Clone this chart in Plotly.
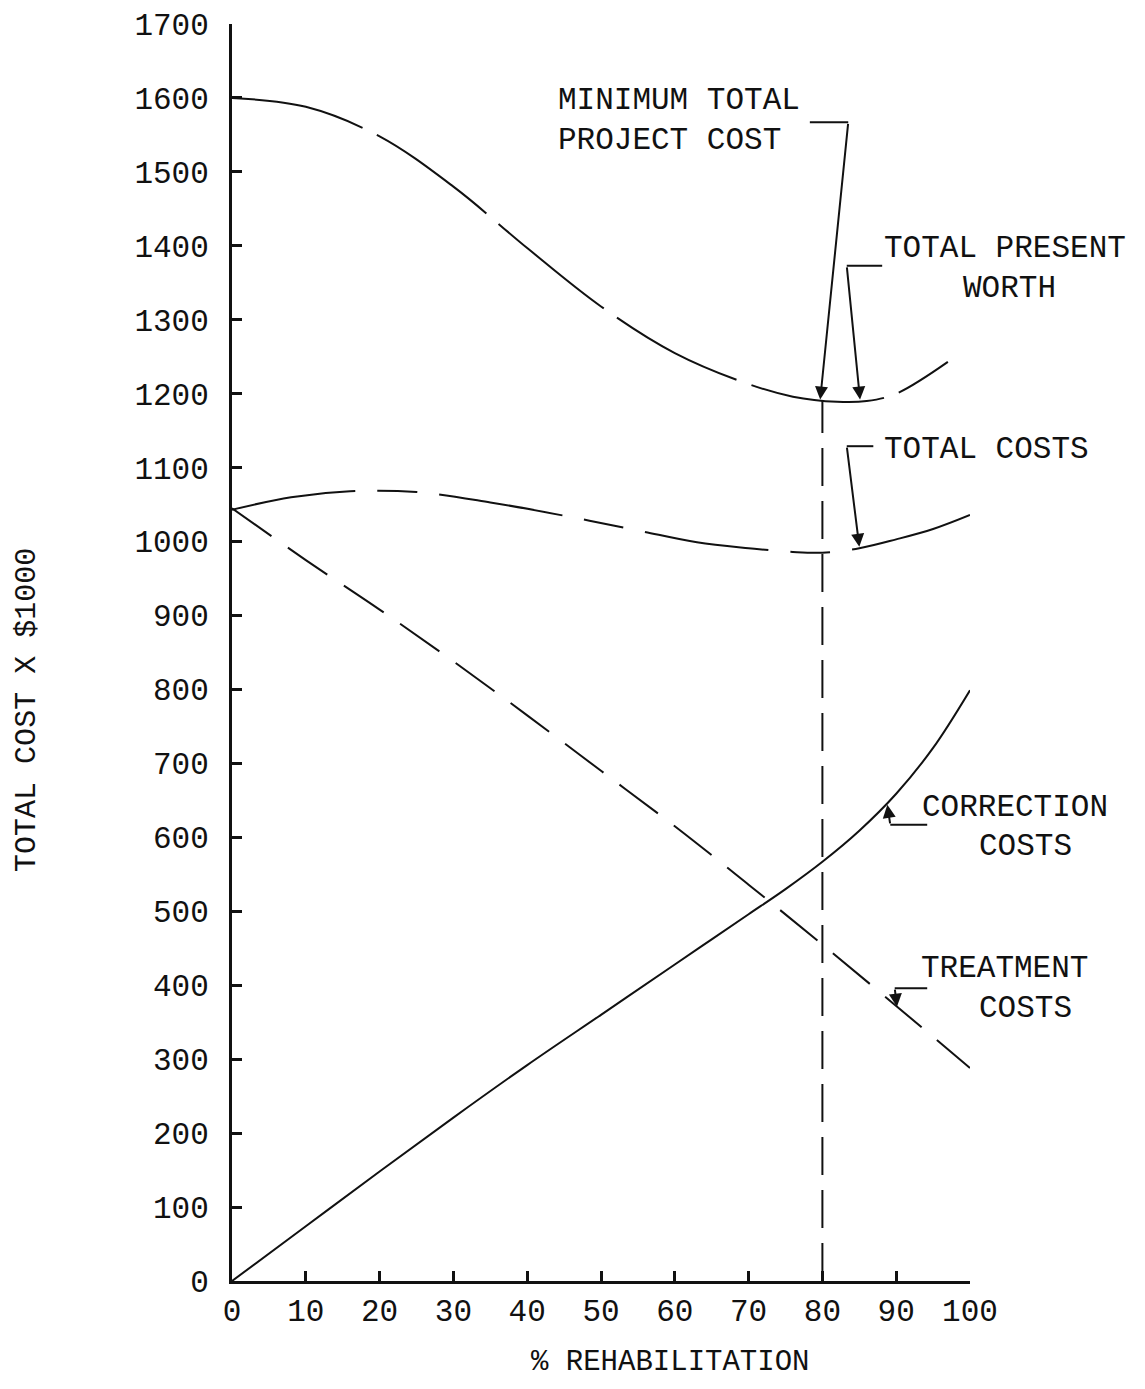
import plotly.graph_objects as go

# ---- data ----
pct = [0, 10, 20, 30, 40, 50, 60, 70, 80, 90, 100]

pw_x = [0, 10, 20, 30, 40, 50, 60, 70, 76, 82, 86, 90, 97]
pw_y = [1600, 1588, 1548, 1480, 1397, 1318, 1255, 1213, 1196, 1189, 1190, 1200, 1243]

tc_x = [0, 8, 16, 25, 35, 45, 55, 63, 70, 76, 80, 85, 90, 95, 100]
tc_y = [1043, 1060, 1068, 1067, 1053, 1035, 1015, 999, 991, 986, 985, 991, 1003, 1017, 1036]

treat_y = [1045, 975, 908, 838, 765, 690, 615, 536, 455, 372, 288]

corr_x = [0, 10, 20, 30, 40, 50, 60, 65, 70, 75, 80, 85, 90, 95, 100]
corr_y = [0, 74, 148, 221, 292, 360, 428, 462, 496, 530, 567, 609, 659, 721, 799]

min_x = 80
min_line_y = [0, 1190]

y_ticks = list(range(0, 1701, 100))
x_ticks = list(range(0, 101, 10))

FONT = "Liberation Mono"
FS = 31
INK = "#111111"

# page geometry (the browser adds an 8px body margin)
W, H = 1129, 1373
L, T, PW_, PH_ = 224, 16, 738, 1257

fig = go.Figure()

fig.add_trace(go.Scatter(x=pw_x, y=pw_y, mode="lines",
                         line=dict(color=INK, width=2, shape="spline", dash="135px,16px")))
fig.add_trace(go.Scatter(x=tc_x, y=tc_y, mode="lines",
                         line=dict(color=INK, width=2, shape="spline", dash="125px,22px,40px,22px")))
fig.add_trace(go.Scatter(x=pct, y=treat_y, mode="lines",
                         line=dict(color=INK, width=2, shape="spline", dash="48px,20px")))
fig.add_trace(go.Scatter(x=corr_x, y=corr_y, mode="lines",
                         line=dict(color=INK, width=2, shape="spline")))
fig.add_trace(go.Scatter(x=[min_x, min_x], y=min_line_y, mode="lines",
                         line=dict(color=INK, width=2, dash="38px,15px")))


def text(x, y, s, xanchor="left"):
    # x given in axis units, converted to paper so text may sit right of the plot
    fig.add_annotation(x=x / 100.0, y=y, xref="paper", yref="y", text=s, showarrow=False,
                       xanchor=xanchor, yanchor="middle", borderpad=0,
                       font=dict(family=FONT, size=FS, color=INK))


def leader(x0, x1, y, tipx, tipy):
    fig.add_shape(type="line", x0=x0, x1=x1, y0=y, y1=y, xref="x", yref="y",
                  line=dict(color=INK, width=2))
    fig.add_annotation(x=tipx, y=tipy, ax=x0, ay=y, xref="x", yref="y",
                       axref="x", ayref="y", text="", showarrow=True,
                       arrowhead=2, arrowsize=1.3, arrowwidth=2, arrowcolor=INK)


# Minimum total project cost
text(44.0, 1596, "MINIMUM TOTAL")
text(44.0, 1542, "PROJECT COST")
leader(83.5, 78.3, 1567, 79.7, 1192)
# Total present worth
text(88.2, 1396, "TOTAL PRESENT")
text(105.4, 1342, "WORTH", xanchor="center")
leader(83.3, 88.1, 1373, 85.1, 1192)
# Total costs
text(88.2, 1125, "TOTAL COSTS")
leader(83.3, 86.9, 1129, 85.0, 993)
# Correction costs
text(93.4, 641, "CORRECTION")
text(107.5, 587, "COSTS", xanchor="center")
leader(89.2, 94.2, 617, 88.8, 644)
# Treatment costs
text(93.2, 423, "TREATMENT")
text(107.5, 369, "COSTS", xanchor="center")
leader(89.8, 94.2, 396, 90.1, 371)

# axis titles
fig.add_annotation(x=-0.277, y=0.454, xref="paper", yref="paper",
                   xanchor="center", yanchor="middle", borderpad=0,
                   text="TOTAL COST X $1000", textangle=-90, showarrow=False,
                   font=dict(family=FONT, size=FS - 1, color=INK))
fig.add_annotation(x=0.5935, y=-0.0645, xref="paper", yref="paper",
                   xanchor="center", yanchor="middle", borderpad=0,
                   text="% REHABILITATION", showarrow=False,
                   font=dict(family=FONT, size=FS - 2, color=INK))

axis_common = dict(showgrid=False, zeroline=False, showline=True, linecolor=INK,
                   linewidth=3, ticks="inside", ticklen=10, tickwidth=3, tickcolor=INK,
                   automargin=False,
                   tickfont=dict(family=FONT, size=FS, color=INK))

fig.update_xaxes(range=[0, 100], tickvals=x_ticks, ticklabelstandoff=0, **axis_common)
fig.update_yaxes(range=[0, 1700], tickvals=y_ticks, ticklabelstandoff=14, **axis_common)

fig.update_layout(width=W, height=H, showlegend=False,
                  margin=dict(l=L, r=W - L - PW_, t=T, b=H - T - PH_, autoexpand=False),
                  plot_bgcolor="white", paper_bgcolor="white")

fig.write_html("out.html")
